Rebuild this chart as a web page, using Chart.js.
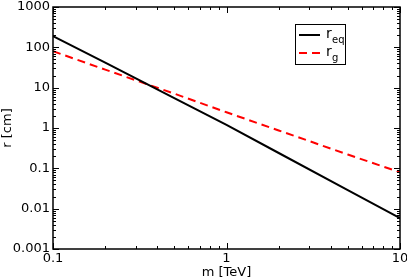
<!DOCTYPE html>
<html>
<head>
<meta charset="utf-8">
<script src="https://cdn.jsdelivr.net/npm/chart.js@4"></script>
<style>
  html, body { margin: 0; padding: 0; background: #fff; }
  #wrap { width: 407px; height: 280px; }
</style>
</head>
<body>
<div id="wrap"><canvas id="c"></canvas></div>
<script>
// ─── Data ─────────────────────────────────────────────────────
const massTeV = [0.1, 0.2, 0.5, 1, 2, 5, 10];
const rEq     = [190, 42, 5.5, 1.2, 0.24, 0.029, 0.0058];
const rG      = [80, 28, 7.1, 2.45, 0.87, 0.22, 0.08];
const xLabels = [0.1, 1, 10];
const yLabels = [0.001, 0.01, 0.1, 1, 10, 100, 1000];

const FONT = 'DejaVu Sans';

const toXY = ys => massTeV.map((m, i) => ({ x: m, y: ys[i] }));

function logTicks(min, max) {
  const out = [];
  for (let e = Math.round(Math.log10(min)); e < Math.round(Math.log10(max)); e++) {
    for (let k = 1; k < 10; k++) out.push({ value: k * Math.pow(10, e), major: k === 1 });
  }
  out.push({ value: max, major: true });
  return out;
}

const fmt = v => Number(v.toPrecision(3)).toString();

// inward ticks on all four sides + custom legend
const framePlugin = {
  id: 'frame',
  afterDraw(chart) {
    const { ctx, chartArea: a, scales } = chart;
    ctx.save();
    ctx.strokeStyle = '#000';
    ctx.lineWidth = 1;
    logTicks(0.1, 10).forEach(t => {
      const px = Math.round(scales.x.getPixelForValue(t.value)) + 0.5;
      const len = t.major ? 6 : 3;
      ctx.beginPath();
      ctx.moveTo(px, a.bottom); ctx.lineTo(px, a.bottom - len);
      ctx.moveTo(px, a.top);    ctx.lineTo(px, a.top + len);
      ctx.stroke();
    });
    logTicks(0.001, 1000).forEach(t => {
      const py = Math.round(scales.y.getPixelForValue(t.value)) + 0.5;
      const len = t.major ? 6 : 3;
      ctx.beginPath();
      ctx.moveTo(a.left, py);  ctx.lineTo(a.left + len, py);
      ctx.moveTo(a.right, py); ctx.lineTo(a.right - len, py);
      ctx.stroke();
    });
    ctx.lineWidth = 1.5;
    ctx.strokeRect(a.left, a.top, a.right - a.left, a.bottom - a.top);

    // legend box
    const bx = 295, by = 24, bw = 50, bh = 40;
    ctx.fillStyle = '#fff';
    ctx.fillRect(bx, by, bw, bh);
    ctx.lineWidth = 1;
    ctx.strokeStyle = '#000';
    ctx.strokeRect(bx + 0.5, by + 0.5, bw, bh);
    chart.data.datasets.forEach((ds, i) => {
      const ly = by + 11 + i * 18;
      ctx.beginPath();
      ctx.strokeStyle = ds.borderColor;
      ctx.lineWidth = ds.borderWidth;
      ctx.setLineDash(ds.borderDash || []);
      ctx.moveTo(bx + 4, ly); ctx.lineTo(bx + 25, ly);
      ctx.stroke();
      ctx.setLineDash([]);
      ctx.fillStyle = '#000';
      ctx.textBaseline = 'alphabetic';
      ctx.font = '14px ' + FONT;
      ctx.fillText(ds.label[0], bx + 31, ly + 3);
      ctx.font = '10px ' + FONT;
      ctx.fillText(ds.label.slice(1), bx + 37, ly + 8);
    });
    ctx.restore();
  }
};

new Chart(document.getElementById('c'), {
  type: 'line',
  data: {
    datasets: [
      {
        label: 'req',
        data: toXY(rEq),
        borderColor: '#000000',
        borderWidth: 2,
        pointRadius: 0,
        fill: false,
      },
      {
        label: 'rg',
        data: toXY(rG),
        borderColor: '#ff0000',
        borderWidth: 2,
        borderDash: [8, 5],
        pointRadius: 0,
        fill: false,
      }
    ]
  },
  options: {
    responsive: true,
    maintainAspectRatio: false,
    animation: false,
    layout: { padding: { top: 7, right: 7, left: 0, bottom: 0 } },
    plugins: { legend: { display: false }, tooltip: { enabled: false } },
    scales: {
      x: {
        type: 'logarithmic',
        min: 0.1, max: 10,
        afterBuildTicks: s => { s.ticks = xLabels.map(v => ({ value: v })); },
        afterFit: s => { s.height = 31; s.paddingLeft = 0; s.paddingRight = 0; },
        grid: { display: false, drawTicks: false },
        border: { display: false },
        ticks: {
          color: '#000', padding: 2, maxRotation: 0, autoSkip: false,
          font: { family: FONT, size: 13 },
          callback: v => fmt(v)
        },
        title: {
          display: true, text: 'm [TeV]', color: '#000', padding: 0,
          font: { family: FONT, size: 13 }
        }
      },
      y: {
        type: 'logarithmic',
        min: 0.001, max: 1000,
        afterBuildTicks: s => { s.ticks = yLabels.map(v => ({ value: v })); },
        afterFit: s => { s.width = 53; s.paddingTop = 0; s.paddingBottom = 0; },
        grid: { display: false, drawTicks: false },
        border: { display: false },
        ticks: {
          color: '#000', padding: 3, autoSkip: false,
          font: { family: FONT, size: 13 },
          callback: v => fmt(v)
        },
        title: {
          display: true, text: 'r [cm]', color: '#000', padding: 0,
          font: { family: FONT, size: 13 }
        }
      }
    }
  },
  plugins: [framePlugin]
});
</script>
</body>
</html>
